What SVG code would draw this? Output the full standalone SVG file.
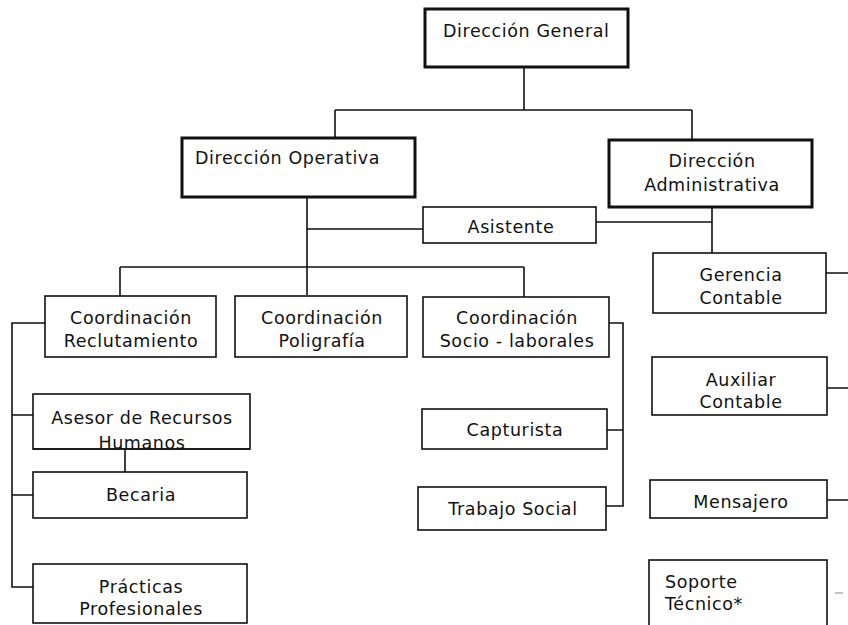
<svg xmlns="http://www.w3.org/2000/svg" width="848" height="625" viewBox="0 0 848 625">
<style>
.box{fill:#fff;stroke:#111;stroke-width:1.6}
.thick{fill:#fff;stroke:#111;stroke-width:3}
.t{font-family:"DejaVu Sans",sans-serif;font-size:17.5px;letter-spacing:0.6px;fill:#111}
.c{text-anchor:middle}
.ln{fill:none;stroke:#111;stroke-width:1.6}
</style>
<rect width="848" height="625" fill="#fff"/>
<g id="connectors">
<path class="ln" d="M524 67V110M335 110H692M335 110V138M692 110V140"/>
<path class="ln" d="M307 198V295M307 229H423M596 222H712M712 207V253"/>
<path class="ln" d="M120 267H524M120 267V296M524 267V297"/>
<path class="ln" d="M45 323H12V587H33M12 415H33M12 495H33M125 449V472"/>
<path class="ln" d="M609 323H623V506H606M607 430H623"/>
<path class="ln" d="M826 273H848M827 388H848M827 500H848"/>
<path d="M835 593H843" stroke="#888" stroke-width="1" fill="none"/>
</g>
<g id="dir-general"><rect class="thick" x="425" y="9" width="203" height="58"/><text class="t" x="443" y="37">Dirección General</text></g>
<g id="dir-operativa"><rect class="thick" x="182" y="138" width="233" height="59"/><text class="t" x="195" y="164">Dirección Operativa</text></g>
<g id="dir-administrativa"><rect class="thick" x="609" y="140" width="203" height="67"/><text class="t c" x="712" y="167">Dirección</text><text class="t c" x="712" y="191">Administrativa</text></g>
<g id="asistente"><rect class="box" x="423" y="207" width="173" height="36"/><text class="t c" x="511" y="233">Asistente</text></g>
<g id="coord-reclutamiento"><rect class="box" x="45" y="296" width="171" height="61"/><text class="t c" x="131" y="324">Coordinación</text><text class="t c" x="131" y="347">Reclutamiento</text></g>
<g id="coord-poligrafia"><rect class="box" x="235" y="296" width="172" height="61"/><text class="t c" x="322" y="324">Coordinación</text><text class="t c" x="322" y="347">Poligrafía</text></g>
<g id="coord-socio"><rect class="box" x="423" y="297" width="186" height="60"/><text class="t c" x="517" y="324">Coordinación</text><text class="t c" x="517" y="347">Socio - laborales</text></g>
<g id="asesor"><rect class="box" x="33" y="394" width="217" height="55"/><text class="t c" x="142" y="424">Asesor de Recursos</text><text class="t c" x="142" y="449">Humanos</text><path class="ln" d="M33 449H250"/></g>
<g id="becaria"><rect class="box" x="33" y="472" width="214" height="46"/><text class="t c" x="141" y="501">Becaria</text></g>
<g id="practicas"><rect class="box" x="33" y="564" width="214" height="59"/><text class="t c" x="141" y="593">Prácticas</text><text class="t c" x="141" y="615">Profesionales</text></g>
<g id="capturista"><rect class="box" x="422" y="409" width="185" height="40"/><text class="t c" x="515" y="436">Capturista</text></g>
<g id="trabajo-social"><rect class="box" x="418" y="487" width="188" height="43"/><text class="t c" x="513" y="515">Trabajo Social</text></g>
<g id="gerencia-contable"><rect class="box" x="653" y="253" width="173" height="60"/><text class="t c" x="741" y="281">Gerencia</text><text class="t c" x="741" y="304">Contable</text></g>
<g id="auxiliar-contable"><rect class="box" x="652" y="357" width="175" height="58"/><text class="t c" x="741" y="386">Auxiliar</text><text class="t c" x="741" y="408">Contable</text></g>
<g id="mensajero"><rect class="box" x="650" y="480" width="177" height="38"/><text class="t c" x="741" y="508">Mensajero</text></g>
<g id="soporte"><rect class="box" x="649" y="560" width="178" height="70"/><text class="t" x="665" y="588">Soporte</text><text class="t" x="665" y="610">Técnico*</text></g>
</svg>
